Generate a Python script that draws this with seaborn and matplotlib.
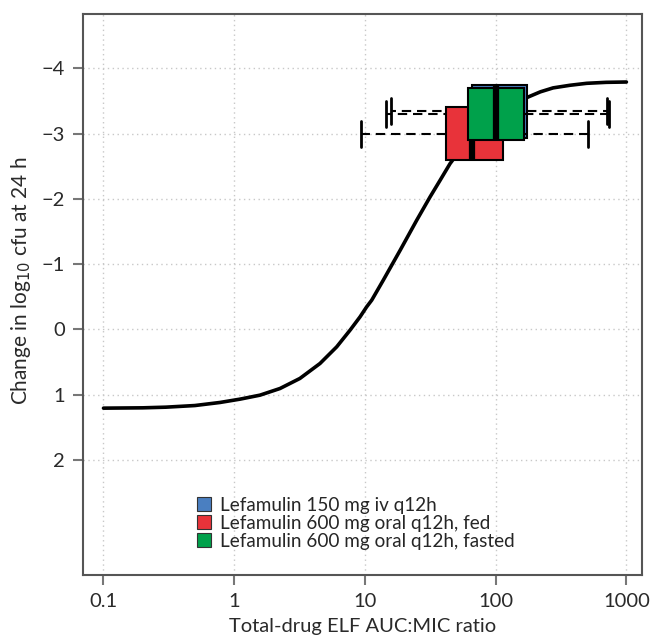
import numpy as np
import pandas as pd
import matplotlib
matplotlib.use("Agg")
import matplotlib.pyplot as plt
import matplotlib.patches as mpatches
import seaborn as sns

# Exposure-response curve
curve_x = [0.1, 0.2, 0.3, 0.5, 0.778, 1.108, 1.574, 2.24, 3.18, 4.53, 6.08, 7.69,
           9.17, 10.3, 11.27, 13.8, 18.6, 24.9, 31.5, 37.6, 44.8, 60, 80, 100,
           130, 177, 220, 275, 370, 497, 700, 1000]
curve_y = [1.205, 1.20, 1.19, 1.165, 1.118, 1.067, 1.006, 0.904, 0.750, 0.521, 0.266, 0.011,
           -0.193, -0.346, -0.449, -0.754, -1.214, -1.674, -2.031, -2.286, -2.541, -2.88, -3.12, -3.27,
           -3.42, -3.56, -3.64, -3.70, -3.74, -3.77, -3.785, -3.79]

# Box summaries: [whisker low, Q1, median, Q3, whisker high]
series = ["Lefamulin 150 mg iv q12h", "Lefamulin 600 mg oral q12h, fed",
          "Lefamulin 600 mg oral q12h, fasted"]
iv_stats = [15.7, 65.6, 100.0, 175.0, 706.0]
fed_stats = [9.3, 41.7, 66.4, 113.0, 504.0]
fasted_stats = [14.5, 61.8, 100.7, 165.0, 741.0]
box_yvals = [-3.34, -3.0, -3.30]
colors = ["#4A7FC1", "#E8333A", "#00A14B"]

yticks = [-4, -3, -2, -1, 0, 1, 2]
xticks = [0.1, 1, 10, 100, 1000]
xticklabels = ["0.1", "1", "10", "100", "1000"]

sns.set_theme(style="white")
plt.rcParams["font.family"] = ["Lato", "DejaVu Sans"]

fig = plt.figure(figsize=(6.51, 6.41), dpi=100)
ax = fig.add_axes([0.1275, 0.103, 0.858, 0.875])
ax.set_xscale("log")

curve_df = pd.DataFrame({"x": curve_x, "y": curve_y})
sns.lineplot(data=curve_df, x="x", y="y", color="black", linewidth=2.6, ax=ax,
             zorder=2, sort=True)

dash = (0, (4.5, 2.8))
all_stats = [iv_stats, fed_stats, fasted_stats]
zorders = [3, 4, 5]
for stats, yv, col, z in zip(all_stats, box_yvals, colors, zorders):
    df = pd.DataFrame({"v": stats, "pos": [yv] * len(stats)})
    wz = 3.5 if z == 5 else z
    sns.boxplot(data=df, x="v", y="pos", orient="y", native_scale=True,
                width=0.8, whis=np.inf, color=col, linecolor="black",
                linewidth=1.5, ax=ax, fill=True, saturation=1,
                boxprops={"zorder": z, "facecolor": col, "edgecolor": "black"},
                medianprops={"zorder": z + 0.1, "linewidth": 4.5, "color": "black"},
                whiskerprops={"zorder": wz, "linestyle": dash, "linewidth": 1.5},
                capprops={"zorder": wz, "linewidth": 2.0},
                showfliers=False)

ax.set_xscale("log")
ax.set_xlim(0.0697, 1306)
ax.set_ylim(3.76, -4.83)
ax.set_xticks(xticks)
ax.set_xticklabels(xticklabels)
ax.xaxis.set_minor_locator(matplotlib.ticker.NullLocator())
ax.set_yticks(yticks)
ax.set_yticklabels([str(t).replace("-", "\u2212") for t in yticks])

ax.grid(True, which="major", linestyle=(0, (1, 2.5)), color="#c8c8c8", linewidth=1.0)
ax.set_axisbelow(True)
for s in ax.spines.values():
    s.set_color("#555555")
    s.set_linewidth(1.5)
ax.tick_params(axis="both", which="major", direction="out", length=7, width=1.5,
               color="#777777", labelsize=14.5, labelcolor="#2a2a2a", pad=6,
               bottom=True, left=True)

ax.set_xlabel("Total-drug ELF AUC:MIC ratio", fontsize=14.5, color="#2a2a2a", labelpad=6)
ax.set_ylabel("Change in log$_{10}$ cfu at 24 h", fontsize=15, color="#2a2a2a")
ax.yaxis.set_label_coords(-0.09, 0.525)

handles = [mpatches.Patch(facecolor=c, edgecolor="#333333", linewidth=0.8, label=s)
           for c, s in zip(colors, series)]
ax.legend(handles=handles, loc="upper left", bbox_to_anchor=(0.19, 0.153),
          frameon=False, fontsize=13.6, handlelength=0.75, handleheight=0.75,
          handletextpad=0.5, labelspacing=0.05, borderaxespad=0)

fig.savefig("out.png", dpi=100)
